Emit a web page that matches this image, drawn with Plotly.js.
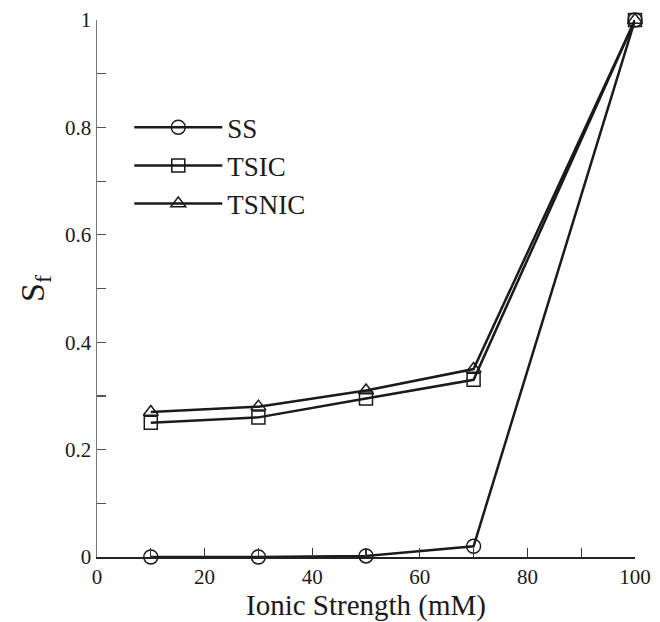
<!DOCTYPE html>
<html>
<head>
<meta charset="utf-8">
<script src="https://cdn.plot.ly/plotly-3.0.1.min.js"></script>
<style>html,body{margin:0;padding:0;background:#fff;}#chart{width:660px;height:622px;}</style>
</head>
<body>
<div id="chart"></div>
<script>
const ionicStrength = [10, 30, 50, 70, 100];
const ssValues = [0.0, 0.0, 0.002, 0.02, 1.0];
const tsicValues = [0.25, 0.26, 0.295, 0.33, 1.0];
const tsnicValues = [0.27, 0.28, 0.31, 0.35, 1.0];
const seriesNames = ['SS', 'TSIC', 'TSNIC'];
const seriesSymbols = ['circle-open', 'square-open', 'triangle-up-open'];

const SERIF = '"Liberation Serif", "Times New Roman", "DejaVu Serif", serif';

const allValues = [ssValues, tsicValues, tsnicValues];
const traces = allValues.map((vals, i) => ({
  x: ionicStrength,
  y: vals,
  name: seriesNames[i],
  type: 'scatter',
  mode: 'lines+markers',
  cliponaxis: false,
  line: {color: '#1a1a1a', width: 2.5},
  marker: {symbol: seriesSymbols[i], size: i === 0 ? 14 : 13, color: '#1a1a1a', line: {width: 1.5, color: '#1a1a1a'}}
}));

const layout = {
  width: 660, height: 622,
  margin: {l: 97, r: 25, t: 20, b: 65},
  paper_bgcolor: '#fff', plot_bgcolor: '#fff',
  font: {family: SERIF, color: '#1a1a1a', size: 21},
  showlegend: true,
  legend: {x: 0.06, y: 0.845, xanchor: 'left', yanchor: 'top', bgcolor: 'rgba(0,0,0,0)',
           font: {size: 27, family: SERIF}, itemwidth: 88, tracegroupgap: 0},
  xaxis: {
    range: [0, 100], dtick: 20, tick0: 0,
    ticks: 'inside', ticklen: 9, tickwidth: 1.2, tickcolor: '#333',
    minor: {dtick: 10, ticks: 'inside', ticklen: 9, tickcolor: '#333'},
    showline: true, linecolor: '#222', linewidth: 1.5,
    showgrid: false, zeroline: false,
    tickfont: {size: 21, family: SERIF},
    title: {text: 'Ionic Strength (mM)', font: {size: 29, family: SERIF}, standoff: 2}
  },
  yaxis: {
    range: [0, 1], dtick: 0.2, tick0: 0,
    ticks: 'inside', ticklen: 9, tickwidth: 1.2, tickcolor: '#555',
    minor: {dtick: 0.1, ticks: 'inside', ticklen: 9, tickcolor: '#555'},
    showline: true, linecolor: '#777', linewidth: 1.5,
    showgrid: false, zeroline: false,
    tickfont: {size: 21, family: SERIF},
    title: {text: 'S<sub>f</sub>', font: {size: 34, family: SERIF}, standoff: 10}
  }
};

Plotly.newPlot('chart', traces, layout, {displayModeBar: false, staticPlot: true});
</script>
</body>
</html>
